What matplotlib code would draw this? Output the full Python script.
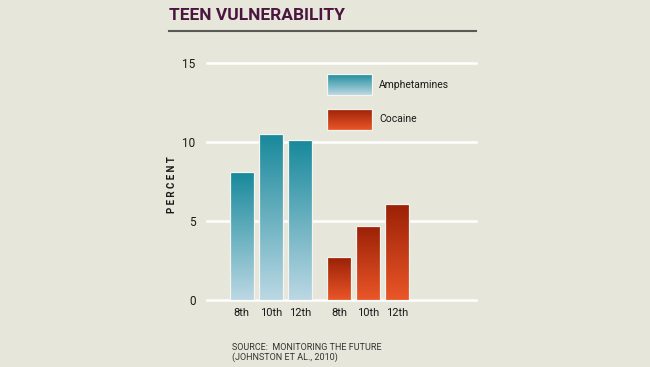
import numpy as np
import matplotlib.pyplot as plt
from matplotlib.colors import LinearSegmentedColormap
from matplotlib.patches import Rectangle

# data
grades = ["8th", "10th", "12th"]
amphetamines = [8.1, 10.5, 10.1]
cocaine = [2.7, 4.7, 6.1]
series_names = ["Amphetamines", "Cocaine"]
yticks = [0, 5, 10, 15]

BG = "#e6e6da"
FONT = "Roboto"
amph_cmap = LinearSegmentedColormap.from_list("amph", ["#bcd8e4", "#17899b"])
coc_cmap = LinearSegmentedColormap.from_list("coc", ["#ea5628", "#9a2006"])
grad = np.linspace(0, 1, 256).reshape(-1, 1)

W, H = 650, 367
fig = plt.figure(figsize=(6.5, 3.67), dpi=100, facecolor=BG)
ax = fig.add_axes([206.7 / W, 67 / H, 269 / W, 237 / H])
ax.set_facecolor(BG)

# gridlines
for v in yticks:
    ax.axhline(v, color="white", lw=1.8, zorder=1, clip_on=False)

bar_w = 0.83
group_gap = 3.355


def gradient_bar(x, h, cmap):
    left = x - bar_w / 2
    im = ax.imshow(grad, cmap=cmap, origin="lower", aspect="auto",
                   extent=[left, left + bar_w, 0, h], zorder=2)
    rect = Rectangle((left, 0), bar_w, h, facecolor="none",
                     edgecolor="#f6f4ee", lw=0.9, zorder=3)
    ax.add_patch(rect)
    im.set_clip_path(rect)


xs = []
for g, (vals, cmap) in enumerate([(amphetamines, amph_cmap), (cocaine, coc_cmap)]):
    for i, v in enumerate(vals):
        x = g * group_gap + i
        xs.append(x)
        gradient_bar(x, v, cmap)

ax.set_xlim(-1.207, 8.07)
ax.set_ylim(0, 15)

ax.set_xticks(xs)
ax.set_xticklabels(grades * 2, fontsize=8, family=FONT, color="#1a1a1a")
ax.set_yticks(yticks)
ax.set_yticklabels([str(v) for v in yticks], fontsize=8.5, family=FONT, color="#1a1a1a")
ax.tick_params(length=0, pad=8)
ax.tick_params(axis="x", pad=6)
for s in ax.spines.values():
    s.set_visible(False)

# legend boxes
for j, (name, cmap) in enumerate(zip(series_names, [amph_cmap, coc_cmap])):
    y0 = (367 - 95 - j * 35) / H
    lax = fig.add_axes([326.7 / W, y0, 45 / W, 21.5 / H])
    lax.imshow(grad, cmap=cmap, origin="lower", aspect="auto")
    lax.set_xticks([])
    lax.set_yticks([])
    for s in lax.spines.values():
        s.set_edgecolor("#f6f4ee")
        s.set_linewidth(0.9)
    fig.text(379 / W, y0 + 10.5 / H, name, fontsize=7.5, family=FONT,
             color="#1a1a1a", va="center", ha="left")

# y label
fig.text(172 / W, 1 - 185 / H, "P E R C E N T", rotation=90, fontsize=7,
         family=FONT, fontweight="bold", color="#1a1a1a",
         ha="center", va="center")

# title and rule
fig.text(169 / W, 1 - 15.5 / H, "TEEN VULNERABILITY", fontsize=12.5,
         family=FONT, fontweight="bold",
         color="#4a1640", ha="left", va="center")
fig.add_artist(plt.Line2D([169 / W, 475.7 / W], [1 - 31 / H, 1 - 31 / H],
                          color="#5a5a55", lw=1.5))

# source
fig.text(232 / W, 1 - 348 / H, "SOURCE:  MONITORING THE FUTURE", fontsize=6.5,
         family=FONT, color="#333333", va="center", ha="left")
fig.text(232 / W, 1 - 357.5 / H, "(JOHNSTON ET AL., 2010)", fontsize=6.5,
         family=FONT, color="#333333", va="center", ha="left")

fig.savefig("out.png", dpi=100, facecolor=BG)
